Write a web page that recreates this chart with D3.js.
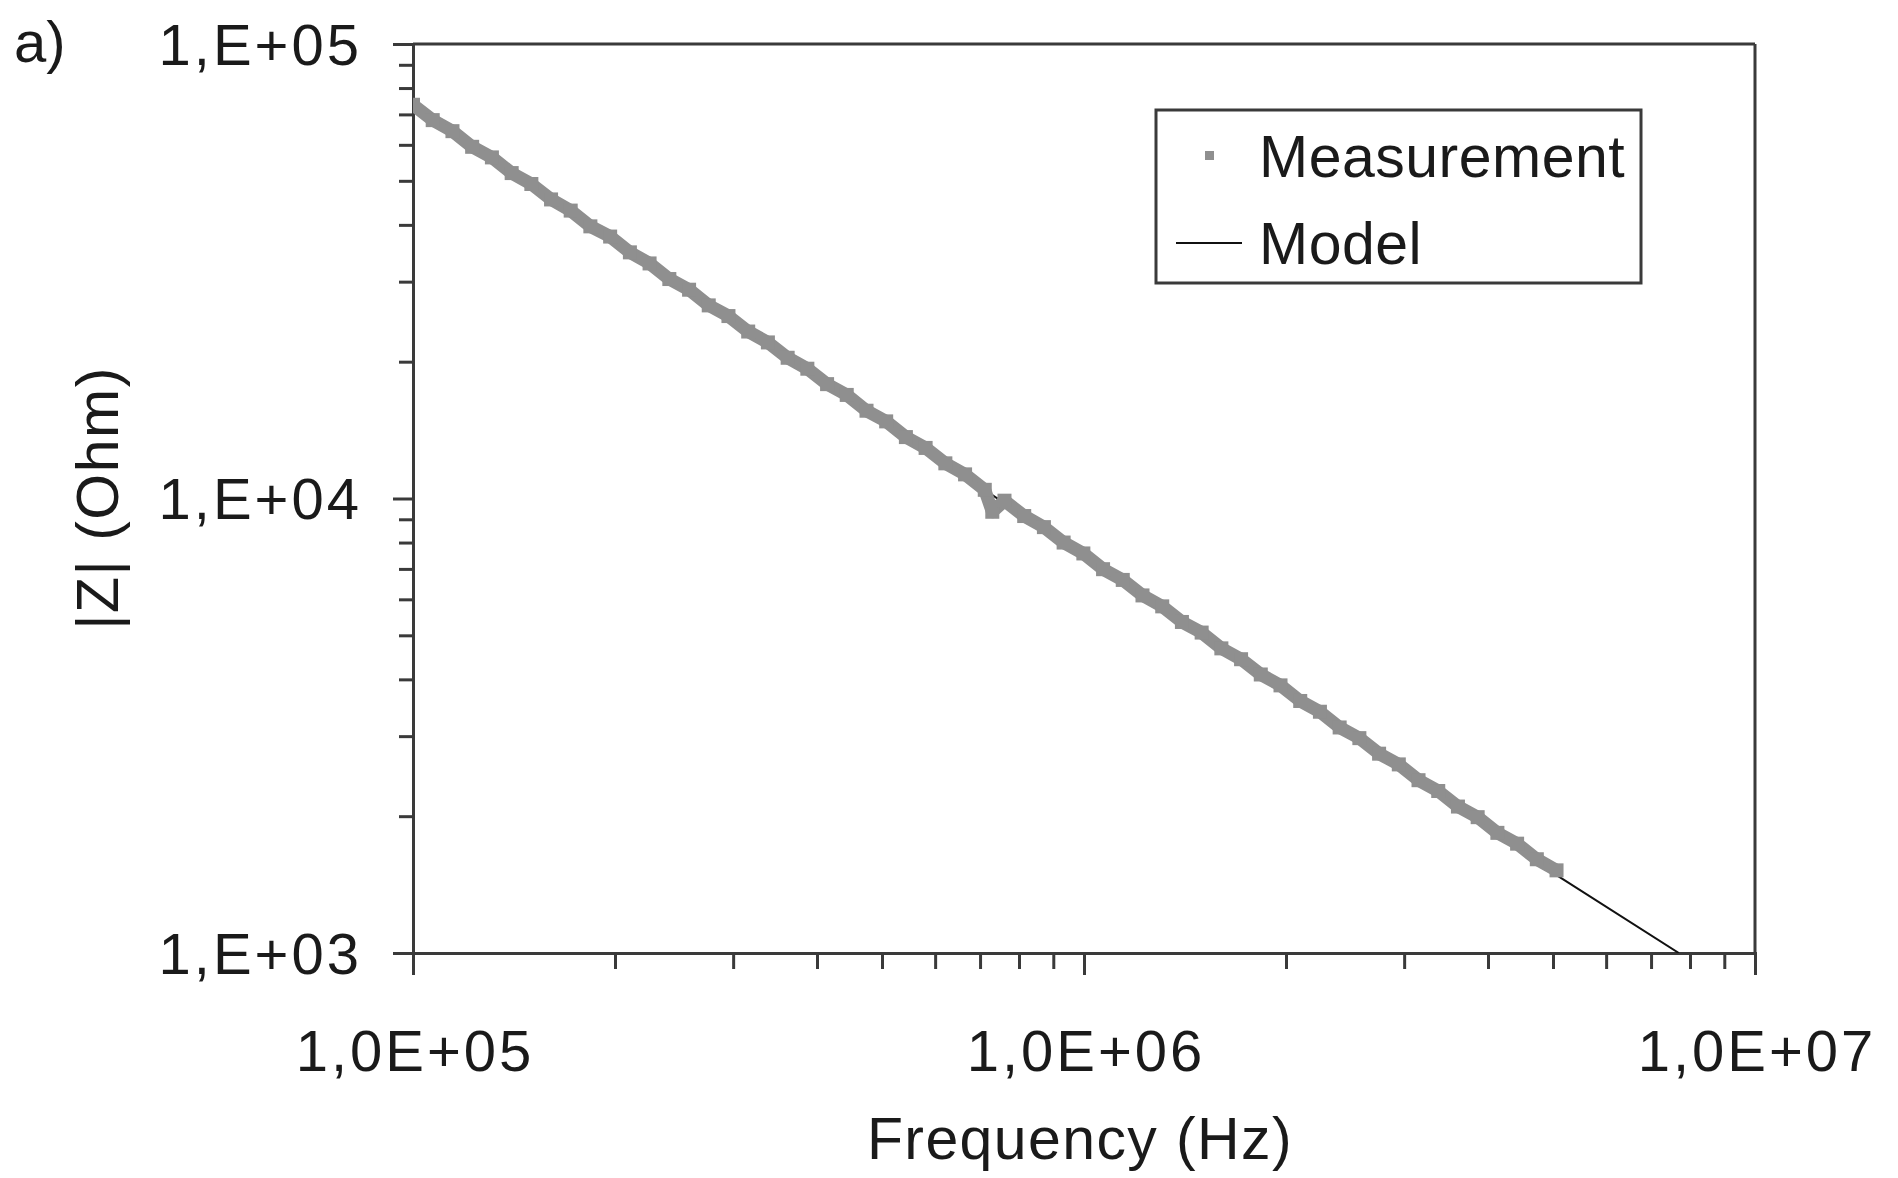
<!DOCTYPE html>
<html>
<head>
<meta charset="utf-8">
<script src="https://cdn.jsdelivr.net/npm/d3@7"></script>
<style>
  html, body { margin: 0; padding: 0; background: #fff; }
  svg { display: block; }
  text { font-family: "Liberation Sans", Arial, sans-serif; fill: #1a1a1a; }
</style>
</head>
<body>
<svg id="chart" width="1898" height="1178"></svg>
<script>
// ---- data ----
const measFreq = [100000, 107000, 114500, 122500, 131100, 140300, 150100, 160600, 171800, 183800,
  196700, 210500, 225200, 241000, 257900, 275900, 295200, 315900, 338000, 361700,
  387000, 414100, 443000, 474100, 507200, 542700, 580700, 621400, 664900, 711400,
  730000, 761200, 814500, 871500, 932500, 997800, 1067600, 1142300, 1222300, 1307900,
  1399400, 1497400, 1602200, 1714300, 1834300, 1962700, 2100100, 2247100, 2404400, 2572700,
  2752800, 2945500, 3151700, 3372300, 3608400, 3860900, 4131200, 4420400, 4729800, 5060900];
const measZ = [73500, 68000, 64300, 59400, 56300, 52000, 49200, 45500, 43000, 39700,
  37700, 34800, 32900, 30400, 28800, 26600, 25200, 23300, 22050, 20400,
  19300, 17850, 16900, 15600, 14780, 13650, 12920, 11950, 11300, 10450,
  9350, 9890, 9150, 8650, 8000, 7570, 6990, 6620, 6120, 5790,
  5350, 5070, 4680, 4430, 4100, 3880, 3585, 3395, 3135, 2970,
  2745, 2600, 2400, 2272, 2100, 1990, 1838, 1740, 1608, 1520];
const modelFreq = [100000, 1000000, 5000000, 7700000];
const modelZ = [73000, 7450, 1500, 1000];
const yMajor = [1000, 10000, 100000];
const yTickLabels = ["1,E+03", "1,E+04", "1,E+05"];
const xMajor = [100000, 1000000, 10000000];
const xTickLabels = ["1,0E+05", "1,0E+06", "1,0E+07"];
const seriesNames = ["Measurement", "Model"];

// ---- layout ----
const svg = d3.select("#chart");
const L = 413, R = 1755, T = 44, B = 953;
const x = d3.scaleLog().domain([1e5, 1e7]).range([L, R]);
const y = d3.scaleLog().domain([1e3, 1e5]).range([B, T]);
const axisColor = "#3a3a3a";
const measColor = "#8f8f8f";
const fs = 58;

svg.append("defs").append("clipPath").attr("id", "clip")
  .append("rect").attr("x", L).attr("y", T).attr("width", R - L).attr("height", B - T);

// frame (top & right)
svg.append("line").attr("x1", L).attr("x2", R).attr("y1", T).attr("y2", T)
  .attr("stroke", axisColor).attr("stroke-width", 3);
svg.append("line").attr("x1", R).attr("x2", R).attr("y1", T).attr("y2", B)
  .attr("stroke", axisColor).attr("stroke-width", 3);

// minor ticks
const xMinor = x.ticks().filter(v => !xMajor.includes(v));
const yMinor = y.ticks().filter(v => !yMajor.includes(v));

const gx = svg.append("g").attr("transform", `translate(0,${B})`);
gx.call(d3.axisBottom(x).tickValues(xMinor).tickSize(16).tickFormat(""));
gx.append("g").call(d3.axisBottom(x).tickValues(xMajor).tickSize(22).tickFormat(""));
gx.selectAll("path.domain").attr("stroke", axisColor).attr("stroke-width", 3);
gx.selectAll(".tick line").attr("stroke", axisColor).attr("stroke-width", 3);

const gy = svg.append("g").attr("transform", `translate(${L},0)`);
gy.call(d3.axisLeft(y).tickValues(yMinor).tickSize(14).tickFormat(""));
gy.append("g").call(d3.axisLeft(y).tickValues(yMajor).tickSize(20).tickFormat(""));
gy.selectAll("path.domain").attr("stroke", axisColor).attr("stroke-width", 3);
gy.selectAll(".tick line").attr("stroke", axisColor).attr("stroke-width", 3);

// tick labels
svg.selectAll("text.ylab").data(yMajor).enter().append("text")
  .attr("x", 362).attr("y", d => y(d)).attr("dy", "0.36em")
  .attr("text-anchor", "end").attr("font-size", fs).attr("letter-spacing", 3)
  .text((d, i) => yTickLabels[i]);
svg.selectAll("text.xlab").data(xMajor).enter().append("text")
  .attr("x", d => x(d) + 2).attr("y", 1050).attr("dy", "0.36em")
  .attr("text-anchor", "middle").attr("font-size", fs).attr("letter-spacing", 3)
  .text((d, i) => xTickLabels[i]);

// axis titles
svg.append("text").attr("x", (L + R) / 2 - 4).attr("y", 1138).attr("dy", "0.36em")
  .attr("text-anchor", "middle").attr("font-size", 59).attr("letter-spacing", 1.4)
  .text("Frequency (Hz)");
svg.append("text").attr("transform", "translate(97,498) rotate(-90)").attr("dy", "0.36em")
  .attr("text-anchor", "middle").attr("font-size", 59).attr("letter-spacing", 1.5)
  .text("|Z| (Ohm)");
svg.append("text").attr("x", 14).attr("y", 62).attr("font-size", fs).text("a)");

// data
const plot = svg.append("g").attr("clip-path", "url(#clip)");
const meas = measFreq.map((f, i) => [f, measZ[i]]);
const model = modelFreq.map((f, i) => [f, modelZ[i]]);
const line = d3.line().x(d => x(d[0])).y(d => y(d[1]));

plot.append("path").datum(model).attr("d", line)
  .attr("fill", "none").attr("stroke", "#111").attr("stroke-width", 2);
plot.append("path").datum(meas).attr("d", line)
  .attr("fill", "none").attr("stroke", measColor).attr("stroke-width", 13)
  .attr("stroke-linejoin", "round").attr("stroke-linecap", "round");
plot.selectAll("rect.m").data(meas).enter().append("rect")
  .attr("x", d => x(d[0]) - 7).attr("y", d => y(d[1]) - 7)
  .attr("width", 14).attr("height", 14).attr("fill", measColor);

// legend
const lg = svg.append("g");
lg.append("rect").attr("x", 1156).attr("y", 110).attr("width", 485).attr("height", 173)
  .attr("fill", "#fff").attr("stroke", axisColor).attr("stroke-width", 3);
lg.append("rect").attr("x", 1205).attr("y", 151).attr("width", 9).attr("height", 9).attr("fill", measColor);
lg.append("line").attr("x1", 1176).attr("x2", 1242).attr("y1", 243).attr("y2", 243)
  .attr("stroke", "#111").attr("stroke-width", 2);
lg.append("text").attr("x", 1259).attr("y", 156).attr("dy", "0.36em").attr("font-size", 59)
  .attr("letter-spacing", 0.5).text(seriesNames[0]);
lg.append("text").attr("x", 1259).attr("y", 243).attr("dy", "0.36em").attr("font-size", 59)
  .attr("letter-spacing", 0.5).text(seriesNames[1]);
</script>
</body>
</html>
